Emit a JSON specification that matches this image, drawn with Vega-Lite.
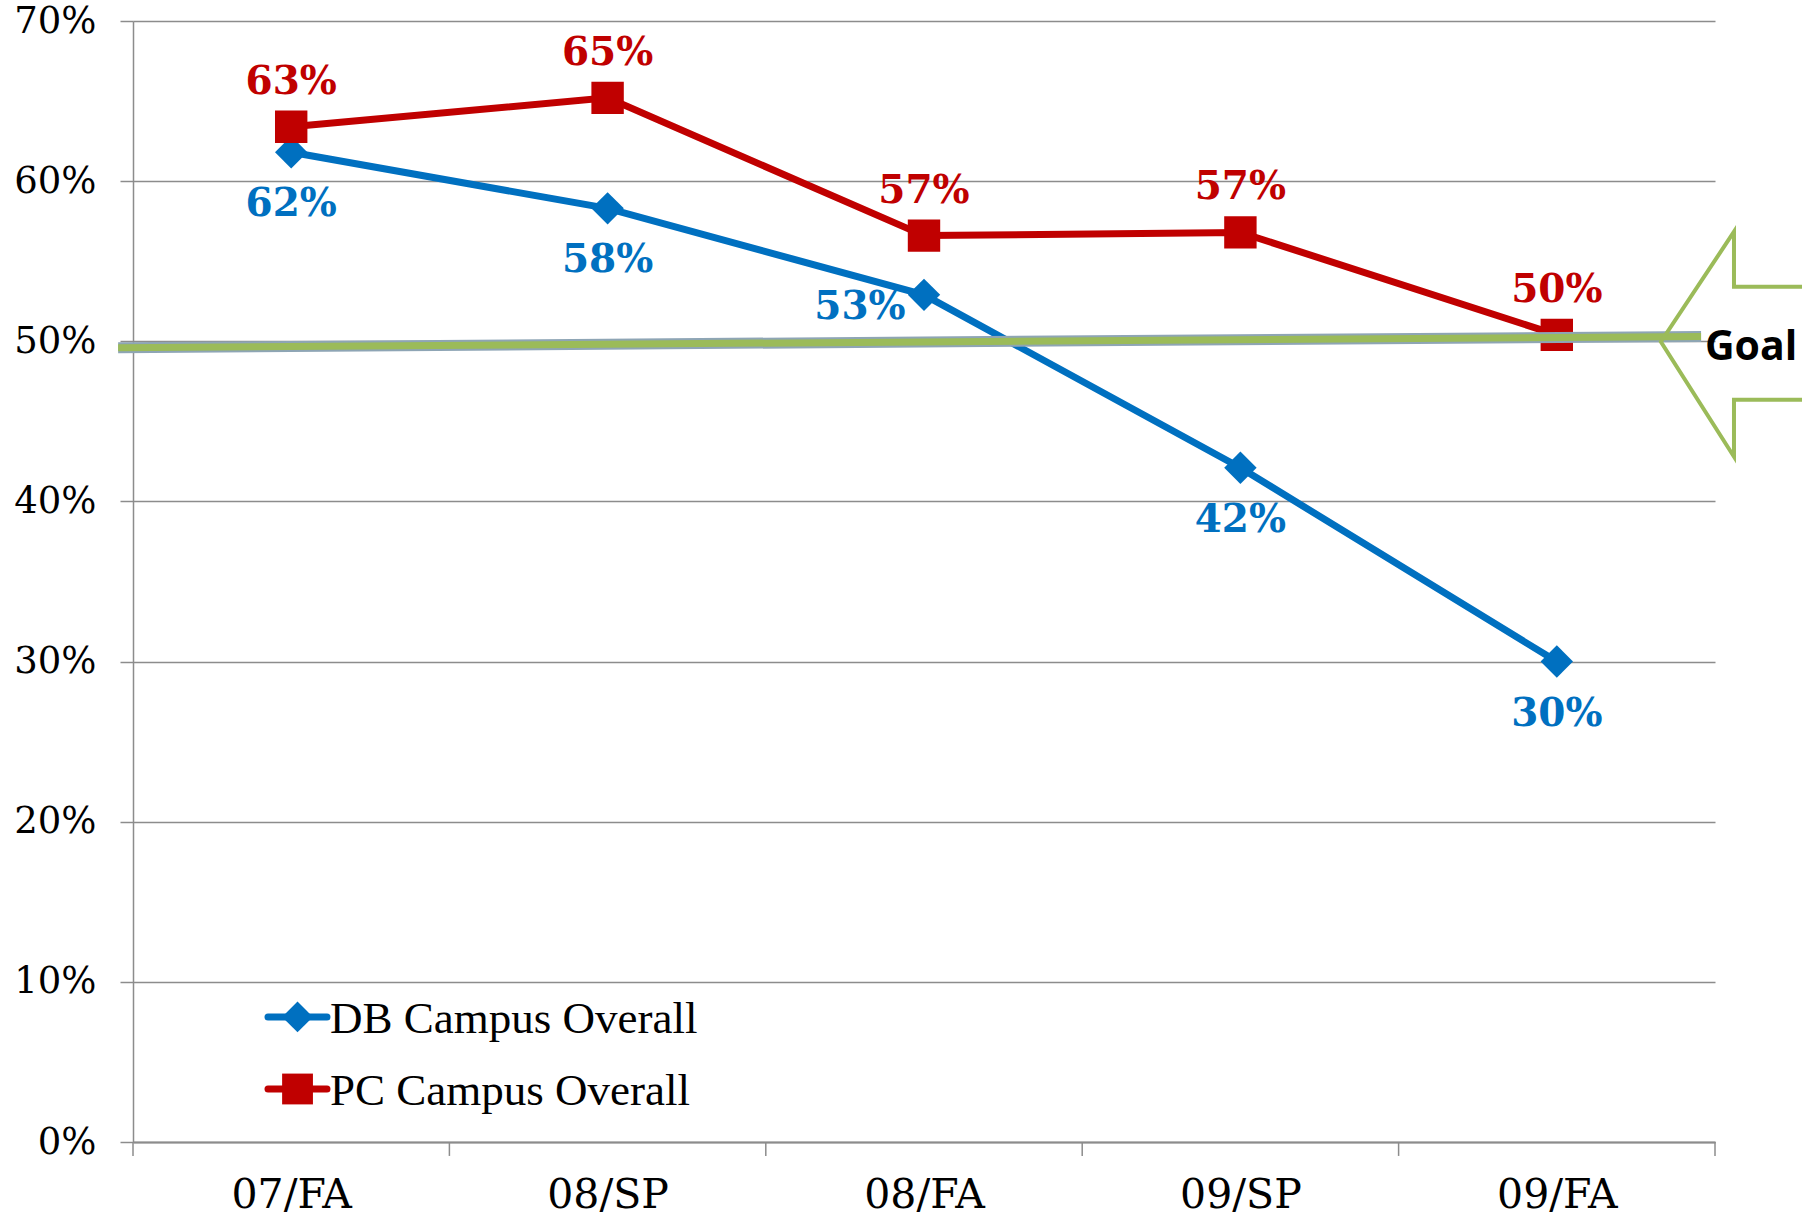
{
  "$schema": "https://vega.github.io/schema/vega-lite/v6.json",
  "width": 1582,
  "height": 1121,
  "autosize": {"type": "none"},
  "padding": {"left": 133, "top": 21, "right": 87, "bottom": 74},
  "background": "white",
  "config": {"view": {"stroke": null}},
  "datasets": {
    "main": [
      {"i": 0, "cat": "07/FA", "series": "DB Campus Overall", "v": 61.8, "label": "62%"},
      {"i": 1, "cat": "08/SP", "series": "DB Campus Overall", "v": 58.3, "label": "58%"},
      {"i": 2, "cat": "08/FA", "series": "DB Campus Overall", "v": 52.9, "label": "53%"},
      {"i": 3, "cat": "09/SP", "series": "DB Campus Overall", "v": 42.1, "label": "42%"},
      {"i": 4, "cat": "09/FA", "series": "DB Campus Overall", "v": 30.0, "label": "30%"},
      {"i": 0, "cat": "07/FA", "series": "PC Campus Overall", "v": 63.4, "label": "63%"},
      {"i": 1, "cat": "08/SP", "series": "PC Campus Overall", "v": 65.2, "label": "65%"},
      {"i": 2, "cat": "08/FA", "series": "PC Campus Overall", "v": 56.6, "label": "57%"},
      {"i": 3, "cat": "09/SP", "series": "PC Campus Overall", "v": 56.8, "label": "57%"},
      {"i": 4, "cat": "09/FA", "series": "PC Campus Overall", "v": 50.4, "label": "50%"}
    ],
    "legend": [
      {"i": 0.02, "i1": -0.0733, "i2": 0.1131, "it": 0.1226, "v": 7.81, "series": "DB Campus Overall"},
      {"i": 0.02, "i1": -0.0733, "i2": 0.1131, "it": 0.1226, "v": 3.31, "series": "PC Campus Overall"}
    ],
    "ticks": [
      {"i": -0.5, "v": 0, "v2": -0.87},
      {"i": 0.5, "v": 0, "v2": -0.87},
      {"i": 1.5, "v": 0, "v2": -0.87},
      {"i": 2.5, "v": 0, "v2": -0.87},
      {"i": 3.5, "v": 0, "v2": -0.87},
      {"i": 4.5, "v": 0, "v2": -0.87}
    ],
    "goal": [
      {"i": -0.547, "v": 49.6},
      {"i": 4.456, "v": 50.3}
    ],
    "arrow": [
      {"i": 4.85, "v": 53.4, "o": 1},
      {"i": 4.56, "v": 53.4, "o": 2},
      {"i": 4.56, "v": 56.84, "o": 3},
      {"i": 4.329, "v": 49.97, "o": 4},
      {"i": 4.56, "v": 42.79, "o": 5},
      {"i": 4.56, "v": 46.35, "o": 6},
      {"i": 4.85, "v": 46.35, "o": 7}
    ],
    "goaltext": [
      {"i": 4.468, "v": 49.6, "t": "Goal"}
    ]
  },
  "encoding": {
    "x": {
      "field": "i",
      "type": "quantitative",
      "scale": {"domain": [-0.5, 4.5], "nice": false, "zero": false},
      "axis": {
        "title": null,
        "values": [0, 1, 2, 3, 4],
        "labelExpr": "['07/FA','08/SP','08/FA','09/SP','09/FA'][datum.value]",
        "labelAngle": 0,
        "ticks": false,
        "domainColor": "#8c8c8c",
        "domainWidth": 2,
        "grid": false,
        "labelFont": "DejaVu Serif",
        "labelFontSize": 41,
        "labelColor": "#000000",
        "labelPadding": 33
      }
    },
    "y": {
      "field": "v",
      "type": "quantitative",
      "scale": {"domain": [0, 70], "nice": false},
      "axis": {
        "title": null,
        "values": [0, 10, 20, 30, 40, 50, 60, 70],
        "labelExpr": "datum.value + '%'",
        "labelFont": "DejaVu Serif",
        "labelFontSize": 37,
        "labelColor": "#000000",
        "labelPadding": 24,
        "tickSize": 13,
        "tickColor": "#8c8c8c",
        "tickWidth": 1.5,
        "domainColor": "#8c8c8c",
        "domainWidth": 1.5,
        "grid": true,
        "gridColor": "#8c8c8c",
        "gridWidth": 1.5
      }
    },
    "color": {
      "field": "series",
      "type": "nominal",
      "scale": {"domain": ["DB Campus Overall", "PC Campus Overall"], "range": ["#0070C0", "#C00000"]},
      "legend": null
    }
  },
  "layer": [
    {
      "data": {"name": "ticks"},
      "mark": {"type": "rule", "color": "#8c8c8c", "strokeWidth": 1.5, "clip": false},
      "encoding": {"y2": {"field": "v2"}, "color": {"value": "#8c8c8c"}}
    },
    {
      "data": {"name": "main"},
      "mark": {"type": "line", "strokeWidth": 7}
    },
    {
      "data": {"name": "main"},
      "mark": {"type": "point", "filled": true, "opacity": 1, "size": 1050},
      "encoding": {
        "shape": {
          "field": "series",
          "type": "nominal",
          "scale": {"domain": ["DB Campus Overall", "PC Campus Overall"], "range": ["diamond", "square"]},
          "legend": null
        }
      }
    },
    {
      "data": {"name": "main"},
      "transform": [{"filter": "datum.series == 'PC Campus Overall'"}],
      "mark": {"type": "text", "dy": -45, "font": "DejaVu Serif", "fontWeight": "bold", "fontSize": 39, "baseline": "middle"},
      "encoding": {"text": {"field": "label"}}
    },
    {
      "data": {"name": "main"},
      "transform": [{"filter": "datum.series == 'DB Campus Overall' && datum.cat != '08/FA'"}],
      "mark": {"type": "text", "dy": 52, "font": "DejaVu Serif", "fontWeight": "bold", "fontSize": 39, "baseline": "middle"},
      "encoding": {"text": {"field": "label"}}
    },
    {
      "data": {"name": "main"},
      "transform": [{"filter": "datum.series == 'DB Campus Overall' && datum.cat == '08/FA'"}],
      "mark": {"type": "text", "dx": -64, "dy": 12, "font": "DejaVu Serif", "fontWeight": "bold", "fontSize": 39, "baseline": "middle"},
      "encoding": {"text": {"field": "label"}}
    },
    {
      "data": {"name": "legend"},
      "mark": {"type": "rule", "strokeWidth": 7, "strokeCap": "round"},
      "encoding": {"x": {"field": "i1", "type": "quantitative"}, "x2": {"field": "i2"}}
    },
    {
      "data": {"name": "legend"},
      "mark": {"type": "point", "filled": true, "opacity": 1, "size": 950},
      "encoding": {
        "shape": {
          "field": "series",
          "type": "nominal",
          "scale": {"domain": ["DB Campus Overall", "PC Campus Overall"], "range": ["diamond", "square"]},
          "legend": null
        }
      }
    },
    {
      "data": {"name": "legend"},
      "mark": {"type": "text", "align": "left", "baseline": "middle", "font": "Liberation Serif", "fontSize": 45, "dy": 2},
      "encoding": {
        "x": {"field": "it", "type": "quantitative"},
        "text": {"field": "series"},
        "color": {"value": "#000000"}
      }
    },
    {
      "data": {"name": "goal"},
      "mark": {"type": "line", "strokeWidth": 11, "clip": false, "strokeCap": "butt"},
      "encoding": {"color": {"value": "#8ea5b5"}}
    },
    {
      "data": {"name": "goal"},
      "mark": {"type": "line", "strokeWidth": 7, "clip": false, "strokeCap": "butt"},
      "encoding": {"color": {"value": "#9BBB59"}}
    },
    {
      "data": {"name": "arrow"},
      "mark": {"type": "line", "strokeWidth": 4, "clip": false, "strokeJoin": "miter"},
      "encoding": {"order": {"field": "o", "type": "quantitative"}, "color": {"value": "#9BBB59"}}
    },
    {
      "data": {"name": "goaltext"},
      "mark": {"type": "text", "align": "left", "baseline": "middle", "font": "Open Sans", "fontWeight": "bold", "fontSize": 41, "clip": false},
      "encoding": {"text": {"field": "t"}, "color": {"value": "#000000"}}
    }
  ]
}
